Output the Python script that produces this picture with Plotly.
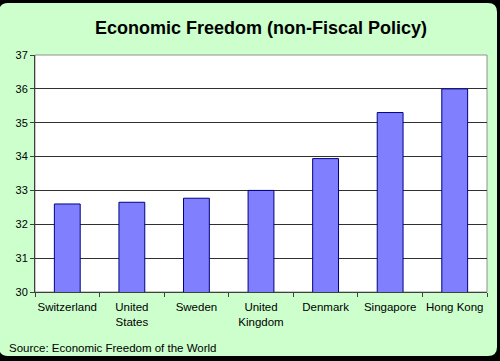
import plotly.graph_objects as go

countries = ["Switzerland", "United<br>States", "Sweden", "United<br>Kingdom", "Denmark", "Singapore", "Hong Kong"]
scores = [32.6, 32.65, 32.77, 33.0, 33.94, 35.3, 36.0]
y_ticks = [30, 31, 32, 33, 34, 35, 36, 37]

W, H = 500, 361
L, R, T, B = 35, 13, 55, 69
pw, ph = W - L - R, H - T - B

def px(x):
    return (x - L) / pw

def py(y):
    return (H - B - y) / ph

fig = go.Figure()
fig.add_trace(go.Bar(
    x=countries, y=scores, width=0.4,
    marker=dict(color="#8080FF", line=dict(color="#000080", width=1)),
    hoverinfo="skip",
))

# rounded green frame
x0, x1, y0, y1 = px(-1), px(497), py(3), py(356)
rx, ry = 9 / pw, 9 / ph
path = (f"M {x0+rx},{y0} L {x1-rx},{y0} Q {x1},{y0} {x1},{y0-ry} "
        f"L {x1},{y1+ry} Q {x1},{y1} {x1-rx},{y1} L {x0+rx},{y1} "
        f"Q {x0},{y1} {x0},{y1+ry} L {x0},{y0-ry} Q {x0},{y0} {x0+rx},{y0} Z")
fig.add_shape(type="path", path=path, xref="paper", yref="paper",
              fillcolor="#CCFFCC", line=dict(width=0), layer="below")
fig.add_shape(type="rect", x0=0, x1=1, y0=0, y1=1, xref="paper", yref="paper",
              fillcolor="white", line=dict(color="#909090", width=1), layer="below")

fig.update_layout(
    width=W, height=H,
    margin=dict(l=L, r=R, t=T, b=B),
    paper_bgcolor="black",
    plot_bgcolor="rgba(0,0,0,0)",
    showlegend=False,
    font=dict(family="Arial, Liberation Sans, sans-serif", size=11, color="black"),
    title=dict(text="<b>Economic Freedom (non-Fiscal Policy)</b>", x=0.5, xref="paper",
               xanchor="center", y=1 - 28 / H, yanchor="middle",
               font=dict(size=18, color="black")),
    xaxis=dict(
        showgrid=False, ticks="outside", tickson="boundaries", ticklen=4,
        tickcolor="#404040", showline=True, linecolor="#404040", linewidth=1,
        range=[-0.5, 6.5], tickfont=dict(size=11.5), tickangle=0, automargin=False,
        ticklabelstandoff=4,
    ),
    yaxis=dict(
        range=[30, 37], tickvals=y_ticks, ticks="outside", ticklen=4,
        tickcolor="#404040", showline=True, linecolor="#404040", linewidth=1,
        showgrid=True, gridcolor="#303030", gridwidth=1, zeroline=False,
        tickfont=dict(size=11), automargin=False,
    ),
    bargap=0.6,
)

fig.add_annotation(text="Source: Economic Freedom of the World", xref="paper", yref="paper",
                   x=px(7), y=py(348), xanchor="left", yanchor="middle",
                   showarrow=False, font=dict(size=11.5, color="black"))

fig.write_html("out.html", config={"displayModeBar": False},
               post_script="document.body.style.margin='0';document.body.style.overflow='hidden';")
